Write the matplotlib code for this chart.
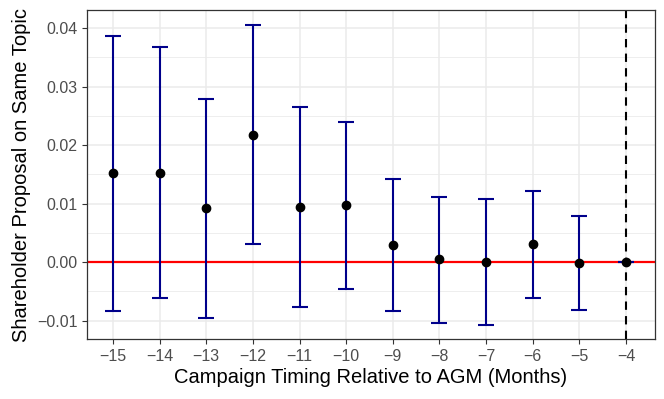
import matplotlib
matplotlib.use('Agg')
import matplotlib.pyplot as plt
import numpy as np

# event-study estimates
months = [-15, -14, -13, -12, -11, -10, -9, -8, -7, -6, -5, -4]
estimate = [0.0152, 0.0153, 0.0092, 0.0218, 0.0095, 0.0097, 0.0029, 0.0005, 0.0001, 0.0031, -0.0001, 0.0]
ci_high = [0.0387, 0.0367, 0.0278, 0.0405, 0.0265, 0.0239, 0.0142, 0.0111, 0.0108, 0.0122, 0.0078, 0.0]
ci_low = [-0.0083, -0.0062, -0.0095, 0.0031, -0.0077, -0.0046, -0.0084, -0.0104, -0.0107, -0.0062, -0.0081, 0.0]
y_ticks = [-0.01, 0.00, 0.01, 0.02, 0.03, 0.04]
y_minor = [-0.005, 0.005, 0.015, 0.025, 0.035]

plt.rcParams['font.family'] = ['Liberation Sans', 'DejaVu Sans']

fig = plt.figure(figsize=(6.64, 3.99), dpi=100)
ax = fig.add_axes([0.131, 0.150, 0.8555, 0.825])

x = np.array(months, dtype=float)
est = np.array(estimate)
hi = np.array(ci_high)
lo = np.array(ci_low)

# grid like theme_bw
for v in y_ticks:
    ax.axhline(v, color='#EBEBEB', lw=1.1, zorder=0)
for v in y_minor:
    ax.axhline(v, color='#EBEBEB', lw=0.6, zorder=0)
for v in months:
    ax.axvline(v, color='#EBEBEB', lw=1.1, zorder=0)

ax.axhline(0, color='red', lw=1.6, zorder=1)
ax.axvline(-4, color='black', lw=1.5, ls=(0, (4, 3)), zorder=1)

ax.errorbar(x, est, yerr=[est - lo, hi - est],
            fmt='none', ecolor='#00008B', elinewidth=1.5, capsize=5.5, capthick=1.5, zorder=2)
ax.plot(x, est, 'o', color='black', ms=6, zorder=3)

ax.set_xlim(-15.558, -3.378)
ax.set_ylim(-0.01316, 0.04308)
ax.set_xticks(months)
ax.set_xticklabels([str(m).replace('-', '\u2212') for m in months])
ax.set_yticks(y_ticks)
ax.set_yticklabels(['\u22120.01', '0.00', '0.01', '0.02', '0.03', '0.04'])
ax.tick_params(colors='#333333', labelcolor='#4D4D4D', labelsize=11.5, length=3.5, width=0.8)

for s in ax.spines.values():
    s.set_color('#333333')
    s.set_linewidth(0.9)

ax.set_xlabel('Campaign Timing Relative to AGM (Months)', fontsize=14.5, labelpad=3)
ax.set_ylabel('Shareholder Proposal on Same Topic', fontsize=14.5, labelpad=4)

fig.savefig('out.png', dpi=100)
